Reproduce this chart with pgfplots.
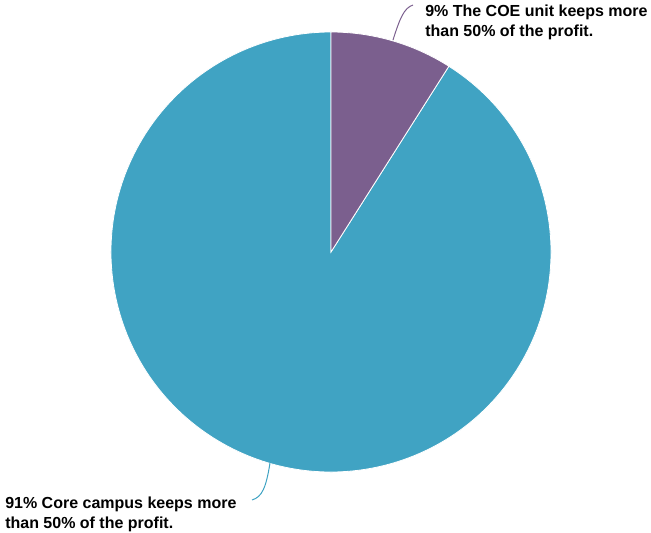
\documentclass[border=0pt]{standalone}
\usepackage{fontspec}
\setmainfont{Liberation Sans}
\usepackage{pgfplots}
\pgfplotsset{compat=1.18}
\definecolor{coe}{HTML}{7B5F8E}
\definecolor{core}{HTML}{40A3C3}
\begin{document}
\begin{tikzpicture}
\begin{axis}[scale only axis, width=488.25pt, height=398.25pt,
  xmin=0, xmax=651, ymin=-531, ymax=0, hide axis, clip=false]
% data: share of respondents (percent)
\def\vA{9}  % The COE unit keeps more than 50% of the profit
\def\vB{91} % Core campus keeps more than 50% of the profit
\pgfmathsetmacro\aA{\vA/(\vA+\vB)*360}
\pgfmathsetmacro\sA{90-\aA}
\path (axis cs:0,0) rectangle (axis cs:651,-531);
\fill[core, draw=white, line width=0.6pt] (axis cs:331,-252) -- ++(\sA:165pt) arc[start angle=\sA, end angle=-270, radius=165pt] -- cycle;
\fill[coe, draw=white, line width=0.6pt] (axis cs:331,-252) -- ++(90:165pt) arc[start angle=90, end angle=\sA, radius=165pt] -- cycle;
\draw[coe, line width=0.75pt] (axis cs:393,-40) .. controls (axis cs:400,-18) and (axis cs:404,-8) .. (axis cs:413,-5);
\draw[core, line width=0.75pt] (axis cs:270,-463) .. controls (axis cs:266,-488) and (axis cs:262,-497) .. (axis cs:252,-500);
\tikzset{lbl/.style={anchor=base west, inner sep=0pt, font=\bfseries\fontsize{12}{15}\selectfont}}
\node[lbl] at (axis cs:425,-17) {9\% The COE unit keeps more};
\node[lbl] at (axis cs:425,-37) {than 50\% of the profit.};
\node[lbl] at (axis cs:5,-509) {91\% Core campus keeps more};
\node[lbl] at (axis cs:5,-529) {than 50\% of the profit.};
\end{axis}
\end{tikzpicture}
\end{document}
